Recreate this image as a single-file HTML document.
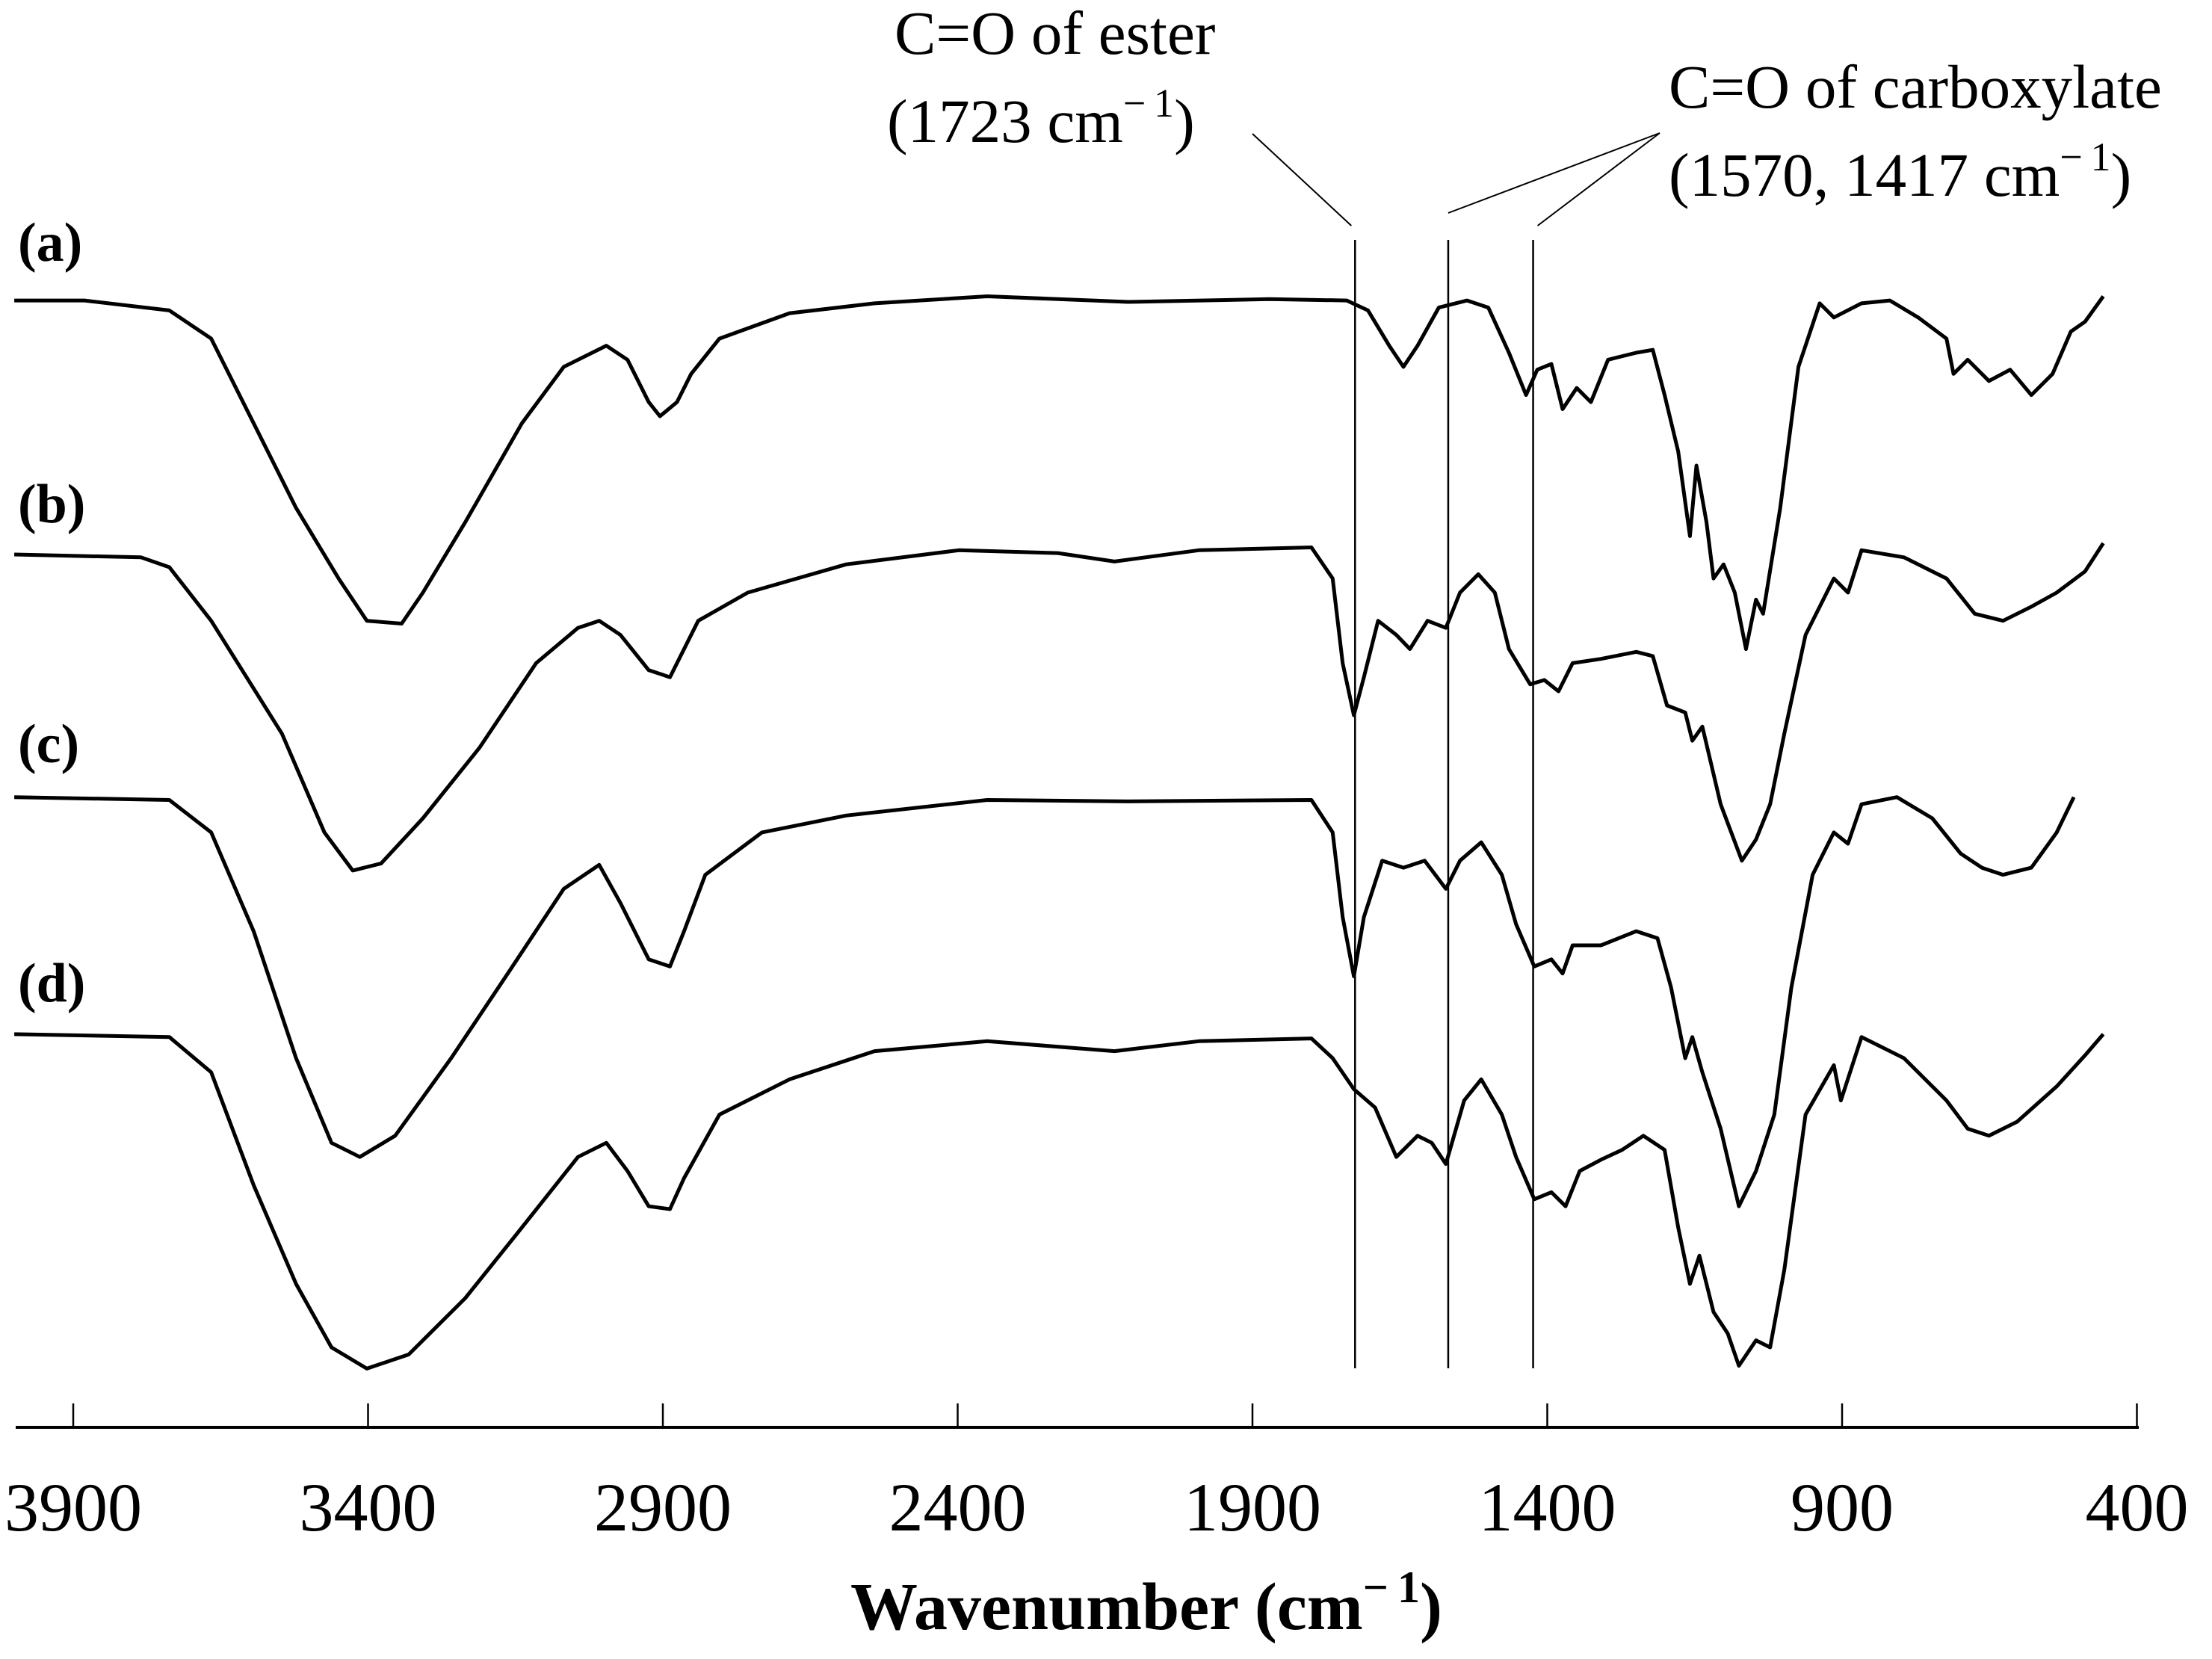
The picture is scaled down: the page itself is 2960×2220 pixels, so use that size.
<!DOCTYPE html>
<html><head><meta charset="utf-8"><style>
html,body{margin:0;padding:0;background:#fff;}
svg{display:block;}
text{font-family:"Liberation Serif",serif;fill:#000;}
</style></head><body>
<svg id="chart" width="2960" height="2220" viewBox="0 0 2960 2220" xmlns="http://www.w3.org/2000/svg">
<g id="axis"></g>
<g id="series"></g>
<g id="annot"></g>
</svg>
<script>
// Series wavenumbers (cm-1) and band depth (arbitrary units, larger = stronger absorption)
const wA=[4000,3881,3737,3666,3594,3522,3450,3402,3343,3307,3235,3139,3068,2996,2960,2924,2905,2876,2852,2804,2685,2541,2350,2111,1871,1740,1704,1668,1644,1620,1584,1536,1500,1465,1436,1417,1393,1374,1350,1326,1297,1249,1221,1201,1178,1158,1147,1130,1118,1101,1082,1063,1046,1034,1005,974,938,914,867,819,771,723,711,687,651,615,579,543,512,488,457];
const dA=[0,0,7,27,87,147,197,227,229,207,157,87,47,32,42,72,82,72,52,27,9,2,-3,1,-1,0,7,32,47,32,5,0,5,37,67,49,45,77,62,72,42,37,35,67,107,167,117,157,197,187,207,247,212,222,147,47,2,12,2,0,12,27,52,42,57,49,67,52,22,15,-3];
const wB=[4000,3785,3737,3666,3546,3474,3426,3378,3307,3211,3115,3044,3008,2972,2924,2888,2864,2840,2756,2589,2398,2230,2134,1991,1800,1764,1747,1728,1711,1687,1656,1633,1603,1572,1548,1517,1489,1465,1429,1405,1381,1357,1309,1249,1221,1197,1166,1154,1137,1106,1070,1046,1022,998,962,914,890,867,795,723,675,627,579,536,488,457];
const dB=[0,2,9,47,127,197,224,219,187,137,77,52,47,57,82,87,67,47,27,7,-3,-1,5,-3,-5,17,77,114,87,47,57,67,47,52,27,14,27,67,92,89,97,77,74,69,72,107,112,132,122,177,217,202,177,127,57,17,27,-3,2,17,42,47,37,27,12,-8];
const wC=[4000,3737,3666,3594,3522,3462,3414,3354,3259,3163,3068,3008,2972,2924,2888,2864,2828,2732,2589,2350,2111,1800,1764,1747,1728,1711,1680,1644,1608,1572,1548,1512,1477,1453,1422,1393,1374,1357,1309,1249,1213,1190,1166,1154,1137,1106,1075,1046,1015,986,950,914,890,867,807,747,699,663,627,579,536,507];
const dC=[0,2,25,95,185,245,255,240,185,125,65,48,75,115,120,95,55,25,13,2,3,2,25,85,127,85,45,50,45,65,45,32,55,90,120,115,125,105,105,95,100,135,185,170,195,235,290,265,225,135,55,25,33,5,0,15,40,50,55,50,25,0];
const wD=[4000,3737,3666,3594,3522,3462,3402,3331,3235,3139,3044,2996,2960,2924,2888,2864,2804,2685,2541,2350,2134,1991,1800,1764,1728,1692,1656,1620,1596,1572,1541,1512,1477,1453,1422,1393,1369,1345,1309,1273,1237,1201,1178,1158,1142,1118,1094,1075,1046,1022,998,962,914,902,867,795,723,687,651,603,536,488,457];
const dD=[0,2,27,107,177,222,237,227,187,137,87,77,97,122,124,102,57,32,12,5,12,5,3,17,39,52,87,72,77,92,47,32,57,87,117,112,122,97,89,82,72,82,137,177,157,197,212,235,217,222,167,57,22,47,2,17,47,67,72,62,37,15,0];
const labels=['(a)','(b)','(c)','(d)'];
const ticks=[3900,3400,2900,2400,1900,1400,900,400];
const markers=[1726,1568,1424];

const NS='http://www.w3.org/2000/svg';
const svg=document.getElementById('chart');
const K=1.888;
const offsets=[213,393,565,733];
function xS(w){return 98+(3900-w)*0.789;}
function yS(i,d){return (offsets[i]+d)*K;}
function mk(tag,attrs,parent){const e=document.createElementNS(NS,tag);for(const k in attrs)e.setAttribute(k,attrs[k]);parent.appendChild(e);return e;}

const ax=document.getElementById('axis');
const base=mk('line',{x1:21,y1:1910,x2:2862,y2:1910,stroke:'#000','stroke-width':4},ax);


ticks.forEach(t=>{
  const l=mk('line',{x1:xS(t),y1:1878,x2:xS(t),y2:1910,stroke:'#000','stroke-width':2.5},ax);
  
  
  const tx=mk('text',{x:xS(t),y:2048,'text-anchor':'middle','font-size':92},ax);
  
  
  tx.textContent=t;
});
const title=mk('text',{x:1534,y:2180,'text-anchor':'middle','font-size':90,'font-weight':'bold'},ax);


title.innerHTML='Wavenumber (cm<tspan font-size="60" dy="-36">\u2212\u20091</tspan><tspan dy="36">)</tspan>';

const sg=document.getElementById('series');
const W=[wA,wB,wC,wD],D=[dA,dB,dC,dD];
const labelY=[349,699,1020,1340];
W.forEach((ws,i)=>{
  let d='';
  ws.forEach((w,j)=>{d+=(j?'L':'M')+xS(w).toFixed(1)+' '+yS(i,D[i][j]).toFixed(1);});
  const p=mk('path',{d:d,fill:'none',stroke:'#000','stroke-width':5,'stroke-linejoin':'round'},sg);
  
  
  const t=mk('text',{x:24,y:labelY[i],'font-size':74,'font-weight':'bold'},sg);
  
  
  t.textContent=labels[i];
});

const an=document.getElementById('annot');
markers.forEach(m=>{
  const l=mk('line',{x1:xS(m),y1:321,x2:xS(m),y2:1831,stroke:'#000','stroke-width':2.5},an);
  
  
});
const lead=[[1676,179,xS(markers[0])-5,302],[2221,178,xS(markers[1]),285],[2221,178,xS(markers[2])+6,302]];
lead.forEach(c=>{
  const l=mk('line',{x1:c[0],y1:c[1],x2:c[2],y2:c[3],stroke:'#000','stroke-width':2},an);
  
  
});
const t1=mk('text',{x:1197,y:72,'font-size':83},an);


t1.textContent='C=O of ester';
const t2=mk('text',{x:1187,y:190,'font-size':83},an);


t2.innerHTML='(1723 cm<tspan font-size="54" dy="-34">\u2212\u20091</tspan><tspan dy="34">)</tspan>';
const t3=mk('text',{x:2233,y:144,'font-size':83},an);


t3.textContent='C=O of carboxylate';
const t4=mk('text',{x:2233,y:262,'font-size':83},an);


t4.innerHTML='(1570, 1417 cm<tspan font-size="54" dy="-34">\u2212\u20091</tspan><tspan dy="34">)</tspan>';
</script>
</body></html>
